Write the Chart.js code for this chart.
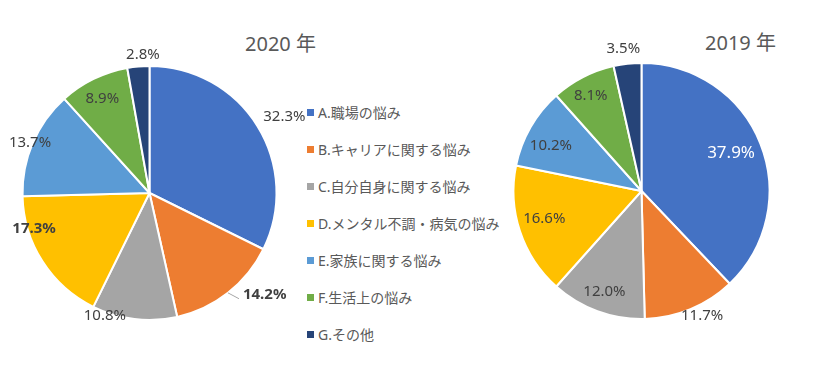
<!DOCTYPE html>
<html>
<head>
<meta charset="utf-8">
<script src="https://cdn.jsdelivr.net/npm/chart.js@4"></script>
<style>
  body { margin: 0; width: 840px; height: 388px; background: #fff; position: relative; overflow: hidden;
         font-family: 'Noto Sans', 'Noto Sans CJK JP', sans-serif; }
  canvas { position: absolute; top: 0; }
  .title { position: absolute; font-size: 20px; color: #595959; white-space: nowrap; }
  #legend { position: absolute; left: 307px; top: 104px; margin: 0; padding: 0; list-style: none; }
  #legend li { height: 37px; font-size: 14px; color: #595959; white-space: nowrap; line-height: 18px; }
  #legend span { display: inline-block; width: 7px; height: 7px; margin-right: 4px; vertical-align: 2px; }
</style>
</head>
<body>
<div class="title" style="left:245px;top:28px;">2020 年</div>
<div class="title" style="left:705px;top:27px;">2019 年</div>
<ul id="legend"></ul>
<canvas id="pie2020" width="320" height="388" style="left:0"></canvas>
<canvas id="pie2019" width="340" height="388" style="left:500px"></canvas>
<script>
// categories and values
const categories = ['A.職場の悩み', 'B.キャリアに関する悩み', 'C.自分自身に関する悩み',
  'D.メンタル不調・病気の悩み', 'E.家族に関する悩み', 'F.生活上の悩み', 'G.その他'];
const values2020 = [32.3, 14.2, 10.8, 17.3, 13.7, 8.9, 2.8];
const values2019 = [37.9, 11.7, 12.0, 16.6, 10.2, 8.1, 3.5];

const colors = ['#4472C4', '#ED7D31', '#A5A5A5', '#FFC000', '#5B9BD5', '#70AD47', '#264478'];

// label placement per slice: [radius factor, angle shift in degrees]
const place2020 = [[1.22, 2.4], [1.21, -10.4], [1.03, 13.1], [0.95, 15.6], [1.02, -0.5], [0.83, -0.5], [1.09, 2.3]];
const place2019 = [[0.76, -1.2], [1.08, -3.5], [0.84, 0], [0.79, 2.4], [0.79, -3.5], [0.84, -1], [1.12, -1]];

// legend
const legend = document.getElementById('legend');
categories.forEach((c, i) => {
  const li = document.createElement('li');
  li.innerHTML = `<span style="background:${colors[i]}"></span>${c}`;
  legend.appendChild(li);
});

// draws percentage labels from arc geometry
const pctLabels = {
  id: 'pctLabels',
  afterDatasetsDraw(chart, args, opts) {
    const ctx = chart.ctx;
    const meta = chart.getDatasetMeta(0);
    const data = chart.data.datasets[0].data;
    ctx.save();
    meta.data.forEach((arc, i) => {
      const p = opts.place[i];
      const mid = (arc.startAngle + arc.endAngle) / 2;
      const a = mid + p[1] * Math.PI / 180;
      const r = arc.outerRadius * p[0];
      const x = arc.x + Math.cos(a) * r;
      const y = arc.y + Math.sin(a) * r;
      const bold = opts.bold.includes(i);
      const size = opts.big.includes(i) ? 17 : 15;
      ctx.font = (bold ? 'bold ' : '') + size + 'px "Noto Sans"';
      ctx.fillStyle = opts.white.includes(i) ? '#ffffff' : '#404040';
      ctx.textAlign = 'center';
      ctx.textBaseline = 'middle';
      const txt = data[i].toFixed(1) + '%';
      ctx.fillText(txt, x, y);
      if (opts.leader.includes(i)) {
        const w = ctx.measureText(txt).width;
        ctx.strokeStyle = '#a6a6a6';
        ctx.lineWidth = 1;
        ctx.beginPath();
        ctx.moveTo(arc.x + Math.cos(mid) * arc.outerRadius, arc.y + Math.sin(mid) * arc.outerRadius);
        ctx.lineTo(x - w / 2 - 4, y + 4);
        ctx.stroke();
      }
    });
    ctx.restore();
  }
};

function makePie(id, values, padding, labelOpts) {
  return new Chart(document.getElementById(id), {
    type: 'pie',
    data: {
      labels: categories,
      datasets: [{
        data: values,
        backgroundColor: colors,
        borderColor: '#ffffff',
        borderWidth: 2
      }]
    },
    options: {
      responsive: false,
      animation: false,
      layout: { padding: padding },
      plugins: {
        legend: { display: false },
        tooltip: { enabled: false },
        pctLabels: labelOpts
      }
    },
    plugins: [pctLabels]
  });
}

makePie('pie2020', values2020, { left: 21.5, right: 42.5, top: 65, bottom: 67 },
  { place: place2020, bold: [1, 3], white: [], leader: [1], big: [] });
makePie('pie2019', values2019, { left: 12.5, right: 69.5, top: 62, bottom: 68 },
  { place: place2019, bold: [], white: [0], leader: [], big: [0] });
</script>
</body>
</html>
